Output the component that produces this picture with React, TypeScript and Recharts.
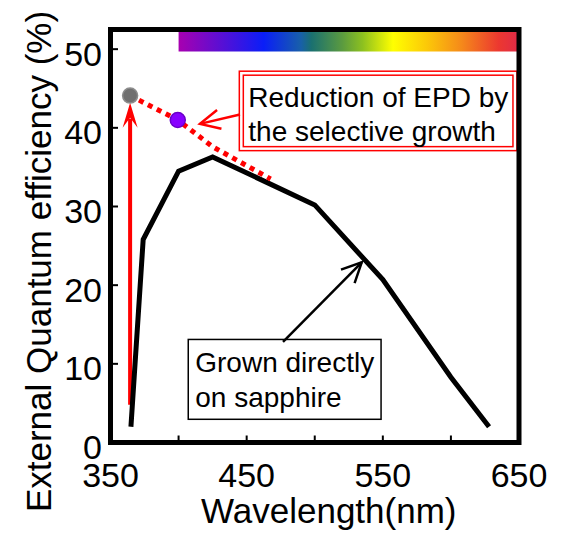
import React from 'react';
import {
  ComposedChart,
  Line,
  Scatter,
  XAxis,
  YAxis,
  ReferenceArea,
  ReferenceLine,
  Cell,
} from 'recharts';

// black curve: grown directly on sapphire
const directWavelength = [365, 374, 400, 425, 500, 550, 600, 628];
const directEqe = [2, 25.8, 34.5, 36.3, 30.2, 20.7, 8.3, 2];

// red dotted curve: selective growth
const selectiveWavelength = [364.4, 399.4, 425, 467.6];
const selectiveEqe = [44.1, 41.0, 37.6, 33.5];

// the two marked points
const dotWavelength = [364.4, 399.4];
const dotEqe = [44.1, 41.0];
const dotFill = ['#707070', '#8800ff'];
const dotStroke = ['#8c8c8c', '#6a00c8'];

const xTicks = [350, 400, 450, 500, 550, 600, 650];
const xLabelled = [350, 450, 550, 650];
const yTicks = [0, 10, 20, 30, 40, 50];

const rainbowStops = [
  { offset: '0%', color: '#a800b0' },
  { offset: '25%', color: '#0a1ef8' },
  { offset: '36%', color: '#1860a8' },
  { offset: '39%', color: '#1a7070' },
  { offset: '48%', color: '#5a9a40' },
  { offset: '54%', color: '#8cc020' },
  { offset: '63%', color: '#ffff00' },
  { offset: '73%', color: '#fcc808' },
  { offset: '83%', color: '#f58a1a' },
  { offset: '94%', color: '#ec3830' },
  { offset: '100%', color: '#e02a48' },
];

const FONT = '"Liberation Sans", Arial, Helvetica, sans-serif';

const directData = directWavelength.map((x, i) => ({ x, y: directEqe[i] }));
const selectiveData = selectiveWavelength.map((x, i) => ({ x, y: selectiveEqe[i] }));
const dotData = dotWavelength.map((x, i) => ({ x, y: dotEqe[i] }));

const XTick = (props: any) => {
  const { x, y, payload } = props;
  const v = payload.value;
  return (
    <g>
      <line x1={x} y1={y} x2={x} y2={y - 7} stroke="#000" strokeWidth={2} />
      {xLabelled.includes(v) && (
        <text x={x} y={y + 44.5} textAnchor="middle" fontSize={34} fontFamily={FONT} fill="#000">
          {v}
        </text>
      )}
    </g>
  );
};

const YTick = (props: any) => {
  const { x, y, payload } = props;
  return (
    <g>
      <line x1={x} y1={y} x2={x + 7.5} y2={y} stroke="#000" strokeWidth={2} />
      <text x={x - 8.5} y={y + 16.5} textAnchor="end" fontSize={34} fontFamily={FONT} fill="#000">
        {payload.value}
      </text>
    </g>
  );
};

// straight arrow with an open V head
const openArrow = (color: string, width: number, head: number) => (props: any) => {
  const { x1, y1, x2, y2 } = props;
  const a = Math.atan2(y2 - y1, x2 - x1);
  const s = 0.45;
  const w1 = [x2 - head * Math.cos(a - s), y2 - head * Math.sin(a - s)];
  const w2 = [x2 - head * Math.cos(a + s), y2 - head * Math.sin(a + s)];
  return (
    <g stroke={color} strokeWidth={width} fill="none">
      <line x1={x1} y1={y1} x2={x2} y2={y2} />
      <polyline points={`${w1[0]},${w1[1]} ${x2},${y2} ${w2[0]},${w2[1]}`} />
    </g>
  );
};

// vertical red arrow with filled head
const solidArrow = (props: any) => {
  const { x1, y1, x2, y2 } = props;
  const top = Math.min(y1, y2);
  const bottom = Math.max(y1, y2);
  return (
    <g fill="#ff0000" stroke="none">
      <line x1={x1} y1={bottom} x2={x1} y2={top + 16} stroke="#ff0000" strokeWidth={4} />
      <polygon
        points={`${x1},${top} ${x1 + 7.5},${top + 25} ${x1},${top + 15} ${x1 - 7.5},${top + 25}`}
      />
    </g>
  );
};

const redBox = (props: any) => {
  const { x, y, width, height } = props;
  return (
    <g fontFamily={FONT} fontSize={28} fill="#000">
      <rect x={x} y={y} width={width} height={height} fill="#fff" stroke="#ff0000" strokeWidth={1.5} />
      <rect x={x + 4} y={y + 4} width={width - 8} height={height - 8} fill="#fff" stroke="#ff0000" strokeWidth={1.5} />
      <text x={x + 9} y={y + 35.5}>Reduction of EPD by</text>
      <text x={x + 9} y={y + 69.5}>the selective growth</text>
    </g>
  );
};

const blackBox = (props: any) => {
  const { x, y, width, height } = props;
  return (
    <g fontFamily={FONT} fontSize={28} fill="#000">
      <rect x={x} y={y} width={width} height={height} fill="#fff" stroke="#000" strokeWidth={1.5} />
      <text x={x + 7} y={y + 33}>Grown directly</text>
      <text x={x + 7} y={y + 67.5}>on sapphire</text>
    </g>
  );
};

const XTitle = (props: any) => {
  const { viewBox } = props;
  return (
    <text x={viewBox.x + viewBox.width / 2 + 14} y={viewBox.y + 80.5} textAnchor="middle" fontSize={35} fontFamily={FONT} fill="#000">
      Wavelength(nm)
    </text>
  );
};

const YTitle = (props: any) => {
  const { viewBox } = props;
  const cx = viewBox.x + viewBox.width - 59.5;
  const cy = viewBox.y + viewBox.height / 2 + 25.5;
  return (
    <text x={cx} y={cy} transform={`rotate(-90 ${cx} ${cy})`} textAnchor="middle" fontSize={35} fontFamily={FONT} fill="#000">
      External Quantum efficiency (%)
    </text>
  );
};

export default function App() {
  return (
    <div style={{ position: 'absolute', left: 0, top: 0, width: 566, height: 533, background: '#fff' }}>
      <ComposedChart width={566} height={533} margin={{ top: 29.5, right: 47, bottom: 30.5, left: 10.5 }}>
        <defs>
          <linearGradient id="rainbow" x1="0" y1="0" x2="1" y2="0">
            {rainbowStops.map((s) => (
              <stop key={s.offset} offset={s.offset} stopColor={s.color} />
            ))}
          </linearGradient>
        </defs>
        <XAxis
          type="number"
          dataKey="x"
          domain={[350, 650]}
          ticks={xTicks}
          interval={0}
          allowDataOverflow
          axisLine={false}
          tickLine={false}
          tickSize={0}
          tickMargin={0}
          height={60}
          tick={<XTick />}
          label={<XTitle />}
        />
        <YAxis
          type="number"
          dataKey="y"
          domain={[0, 52.5]}
          ticks={yTicks}
          interval={0}
          allowDataOverflow
          axisLine={false}
          tickLine={false}
          tickSize={0}
          tickMargin={0}
          width={100}
          tick={<YTick />}
          label={<YTitle />}
        />
        <ReferenceArea x1={400} x2={650} y1={49.7} y2={52.5} fill="url(#rainbow)" fillOpacity={1} stroke="none" />
        <ReferenceLine
          segment={[{ x: 364.4, y: 4.8 }, { x: 364.4, y: 43.2 }]}
          shape={solidArrow}
        />
        <Line
          data={directData}
          dataKey="y"
          type="linear"
          stroke="#000"
          strokeWidth={5}
          strokeLinejoin="miter"
          dot={false}
          isAnimationActive={false}
        />
        <Line
          data={selectiveData}
          dataKey="y"
          type="linear"
          stroke="#ff0000"
          strokeWidth={5}
          strokeDasharray="5 5"
          dot={false}
          isAnimationActive={false}
        />
        <Scatter data={dotData} dataKey="y" isAnimationActive={false} shape={(p: any) => (
          <circle cx={p.cx} cy={p.cy} r={7.5} fill={p.fill} stroke={p.stroke} strokeWidth={1.5} />
        )}>
          {dotData.map((d, i) => (
            <Cell key={i} fill={dotFill[i]} stroke={dotStroke[i]} />
          ))}
        </Scatter>
        <ReferenceLine
          segment={[{ x: 445.1, y: 41.7 }, { x: 415.7, y: 40.5 }]}
          shape={openArrow('#ff0000', 2.5, 22)}
        />
        <ReferenceLine
          segment={[{ x: 476.7, y: 12.8 }, { x: 534.5, y: 22.9 }]}
          shape={openArrow('#000', 2.5, 22)}
        />
        <ReferenceArea x1={444.6} x2={648.5} y1={37.1} y2={47.2} shape={redBox} ifOverflow="visible" />
        <ReferenceArea x1={407.1} x2={548.7} y1={2.95} y2={13.1} shape={blackBox} ifOverflow="visible" />
        <ReferenceArea x1={350} x2={650} y1={0} y2={52.5} fill="none" stroke="#000" strokeWidth={5} ifOverflow="visible" />
      </ComposedChart>
    </div>
  );
}
